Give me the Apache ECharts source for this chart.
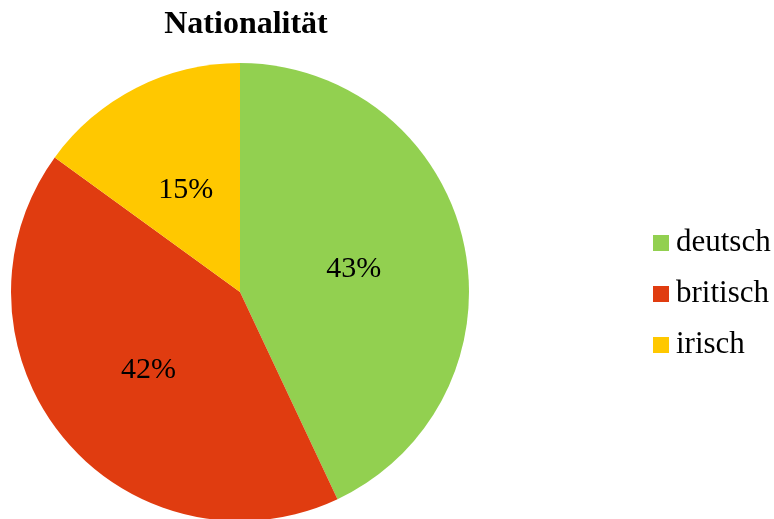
<!DOCTYPE html>
<html lang="de">

<head>
  <meta charset="UTF-8">
  <title>Nationalität</title>
  <script src="https://cdn.jsdelivr.net/npm/echarts@6/dist/echarts.min.js"></script>
  <style>
    html, body { margin: 0; padding: 0; background: #fff; }
    #main { width: 774px; height: 519px; }
  </style>
</head>

<body>
  <div id="main"></div>
  <script type="text/javascript">
    var categories = ['deutsch', 'britisch', 'irisch'];
    var values = [43, 42, 15];
    var colors = ['#92D050', '#E03C10', '#FFC800'];

    var myChart = echarts.init(document.getElementById('main'));

    var data = categories.map(function(name, i) {
      return { name: name, value: values[i], itemStyle: { color: colors[i] } };
    });

    var option = {
      animation: false,
      title: {
        text: 'Nationalität',
        left: 241,
        textAlign: 'center',
        top: 4,
        textStyle: {
          fontFamily: 'Liberation Serif',
          fontWeight: 'bold',
          fontSize: 32,
          color: '#000'
        }
      },
      legend: {
        orient: 'vertical',
        left: 648,
        top: 222,
        itemWidth: 16,
        itemHeight: 16,
        itemGap: 19,
        icon: 'rect',
        textStyle: {
          fontFamily: 'Liberation Serif',
          fontSize: 31,
          lineHeight: 32,
          color: '#000',
          padding: [0, 0, 0, 2]
        },
        data: categories
      },
      series: [{
        type: 'pie',
        center: [240, 292],
        radius: [0, 229],
        startAngle: 90,
        clockwise: true,
        label: {
          position: 'inside',
          formatter: '{d}%',
          fontFamily: 'Liberation Serif',
          fontSize: 30,
          color: '#000',
          offset: [-1, 3]
        },
        labelLine: { show: false },
        itemStyle: { borderWidth: 0 },
        emphasis: { disabled: true },
        data: data
      }]
    };

    myChart.setOption(option);
  </script>
</body>

</html>
